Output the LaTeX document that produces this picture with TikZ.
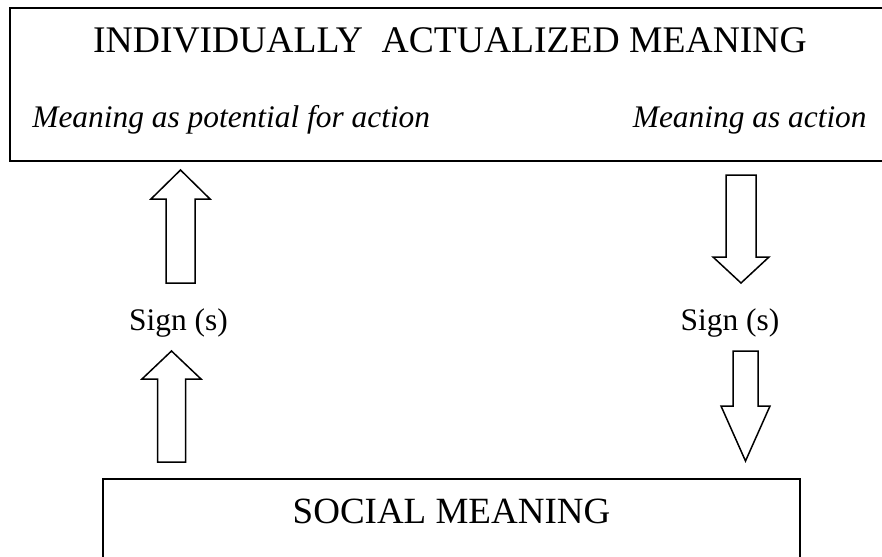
\documentclass[tikz,border=0pt]{standalone}
\usepackage{fontspec}
\setmainfont{Liberation Serif}

% hollow block arrow: centre x, tip y, head base y, tail y, head half width, shaft half width
\newcommand{\blockarrow}[6]{%
  \draw[blockarr] (#1,#2) -- ({#1+#5},#3) -- ({#1+#6},#3) -- ({#1+#6},#4)
    -- ({#1-#6},#4) -- ({#1-#6},#3) -- ({#1-#5},#3) -- cycle;}

\begin{document}
\begin{tikzpicture}[x=0.5pt,y=-0.5pt,
    box/.style={line width=1.1pt},
    blockarr/.style={line width=0.75pt, line join=miter},
    big/.style={font=\fontsize{18.5}{22}\selectfont, inner sep=0pt},
    small/.style={font=\fontsize{15.7}{19}\selectfont, inner sep=0pt}]
    \clip (0,0) rectangle (882,556);
    % the two boxes
    \draw[box] (10,8) rectangle (900,161);
    \draw[box] (103,479) rectangle (800,580);
    \node[big, font=\fontsize{18.8}{22}\selectfont, anchor=base] (individual) at (450,53) {INDIVIDUALLY\ \ ACTUALIZED MEANING};
    \node[small, anchor=base west] (potential) at (32,127) {\itshape Meaning as potential for action};
    \node[small, anchor=base east] (action) at (867,127) {\itshape Meaning as action};
    \node[big, anchor=base] (social) at (451.5,523) {SOCIAL MEANING};
    % signs between the boxes
    \node[small, anchor=base] (signL) at (178.5,330) {Sign (s)};
    \node[small, anchor=base] (signR) at (730,330) {Sign (s)};
    % arrows going up on the left, down on the right
    \blockarrow{180.5}{170}{199}{283}{29.5}{14.5}
    \blockarrow{171.5}{351}{379}{462}{29.5}{14}
    \blockarrow{741}{283}{257}{175}{28}{15}
    \blockarrow{745.5}{461}{406}{351}{24.5}{12.5}
\end{tikzpicture}
\end{document}
